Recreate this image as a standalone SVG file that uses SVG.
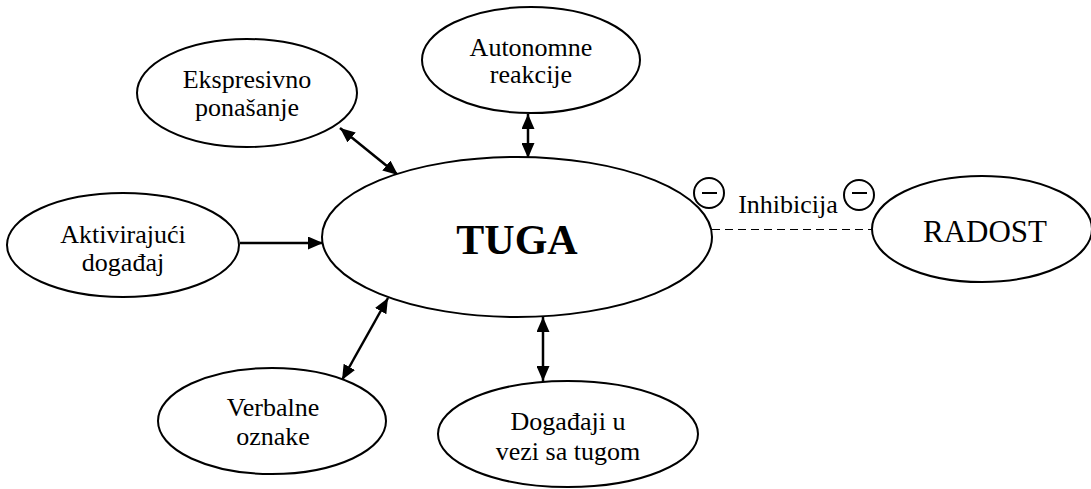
<svg xmlns="http://www.w3.org/2000/svg" width="1091" height="489" viewBox="0 0 1091 489">
<style>
.node{fill:#fff;stroke:#000;stroke-width:2}
.lbl{font-family:"Liberation Serif","Times New Roman",serif;font-size:26px;fill:#000;text-anchor:middle}
.conn{stroke:#000;stroke-width:2.5;fill:none}
</style>
<defs>
<marker id="ah" viewBox="0 0 15 13" refX="15" refY="6.5" markerWidth="15" markerHeight="13" markerUnits="userSpaceOnUse" orient="auto-start-reverse">
<path d="M0,0 L15,6.5 L0,13 Z" fill="#000"/>
</marker>
</defs>
<rect width="1091" height="489" fill="#fff"/>
<g id="connectors">
<line class="conn" x1="340" y1="128" x2="398" y2="175" marker-start="url(#ah)" marker-end="url(#ah)"/>
<line class="conn" x1="528" y1="114" x2="528" y2="158" marker-start="url(#ah)" marker-end="url(#ah)"/>
<line class="conn" x1="240" y1="243" x2="323" y2="243" marker-end="url(#ah)"/>
<line class="conn" x1="342" y1="380" x2="388" y2="298" marker-start="url(#ah)" marker-end="url(#ah)"/>
<line class="conn" x1="543" y1="317" x2="543" y2="381" marker-start="url(#ah)" marker-end="url(#ah)"/>
<line x1="712" y1="229.5" x2="872" y2="229.5" stroke="#000" stroke-width="1.2" stroke-dasharray="8,5"/>
<g id="inhibition-marks" fill="none" stroke="#000" stroke-width="2">
<ellipse cx="709" cy="193" rx="15" ry="15"/>
<line x1="702" y1="193" x2="717" y2="193"/>
<ellipse cx="859" cy="195" rx="15" ry="15"/>
<line x1="852" y1="193" x2="867" y2="193"/>
</g>
<text class="lbl" x="788" y="213">Inhibicija</text>
</g>
<g id="tuga">
<ellipse class="node" cx="517" cy="237" rx="195" ry="80"/>
<text class="lbl" x="517" y="254" style="font-size:42px;font-weight:bold">TUGA</text>
</g>
<g id="ekspresivno">
<ellipse class="node" cx="247" cy="93" rx="110" ry="54"/>
<text class="lbl" x="247" y="88">Ekspresivno</text>
<text class="lbl" x="247" y="116">ponašanje</text>
</g>
<g id="autonomne">
<ellipse class="node" cx="531" cy="60" rx="109" ry="53"/>
<text class="lbl" x="531" y="56">Autonomne</text>
<text class="lbl" x="531" y="83">reakcije</text>
</g>
<g id="aktivirajuci">
<ellipse class="node" cx="123" cy="245" rx="116" ry="52"/>
<text class="lbl" x="123" y="243">Aktivirajući</text>
<text class="lbl" x="123" y="271">događaj</text>
</g>
<g id="verbalne">
<ellipse class="node" cx="272" cy="421" rx="114" ry="53"/>
<text class="lbl" x="273" y="416">Verbalne</text>
<text class="lbl" x="273" y="445">oznake</text>
</g>
<g id="dogadjaji">
<ellipse class="node" cx="568" cy="434" rx="130" ry="53"/>
<text class="lbl" x="568" y="430">Događaji u</text>
<text class="lbl" x="568" y="460">vezi sa tugom</text>
</g>
<g id="radost">
<ellipse class="node" cx="982" cy="229" rx="110" ry="53"/>
<text class="lbl" x="985" y="242" style="font-size:31px">RADOST</text>
</g>
</svg>
